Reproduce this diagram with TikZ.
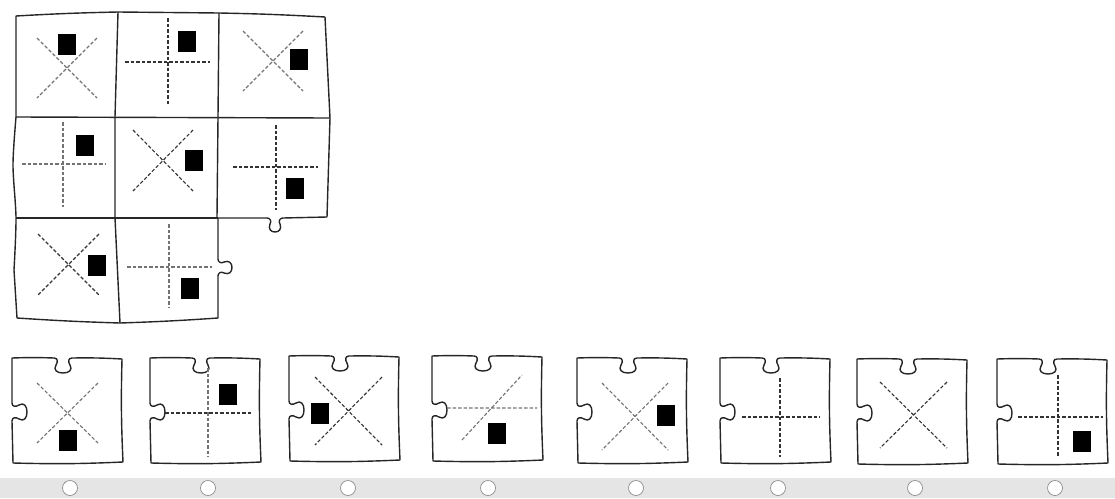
\documentclass[tikz,border=0pt]{standalone}
\usepackage{tikz}
\usetikzlibrary{positioning}

% one answer piece: notch on top and on the left
\newcommand{\puzzlepiece}[1]{%
  \draw[outline, shift={#1}] (0,0) to[bend left=2] (42,0)
    .. controls (46,0) and (46,4) .. (44,7)
    .. controls (41,12) and (45,15) .. (51,15)
    .. controls (57,15) and (61,12) .. (58,7)
    .. controls (56,4) and (56,0) .. (60,0)
    to[bend left=2] (110,1) to[bend right=2] (111,104) to[bend left=2] (1,105) -- (0,63)
    .. controls (0,59) and (4,59) .. (7,61)
    .. controls (12,64) and (15,60) .. (15,54)
    .. controls (15,48) and (12,44) .. (7,47)
    .. controls (4,49) and (0,49) .. (0,45) -- cycle;}

\begin{document}
\begin{tikzpicture}[
    x=1pt, y=-1pt,
    outline/.style={draw=black!85, line width=1.4pt, line join=round},
    dashdark/.style={draw=black!80, line width=1.1pt, dash pattern=on 3.5pt off 2pt},
    dashlight/.style={draw=black!55, line width=1.1pt, dash pattern=on 3.5pt off 2pt},
    blk/.style={rectangle, fill=black, minimum width=18pt, minimum height=21pt, inner sep=0pt},
    radio/.style={circle, draw=black!45, fill=white, line width=0.7pt, minimum size=15pt, inner sep=0pt}
]
    \useasboundingbox (0,0) rectangle (1115,498);

    % Grid outline
    \draw[outline] (16,16) to[bend left=1] (118,12) -- (219,13) to[bend left=1] (325,17)
        -- (330,118) -- (327,217) -- (283,218)
        .. controls (280,218) and (278,221) .. (280,224)
        .. controls (282,229) and (279,232) .. (275,232)
        .. controls (271,232) and (268,229) .. (270,224)
        .. controls (272,221) and (270,218) .. (267,218)
        -- (218,218) -- (218,259)
        .. controls (218,262) and (221,264) .. (224,262)
        .. controls (229,260) and (232,263) .. (232,267.5)
        .. controls (232,272) and (229,275) .. (224,273)
        .. controls (221,271) and (218,273) .. (218,276)
        -- (218,318) to[bend left=1] (120,323) to[bend left=1] (17,318)
        -- plot[smooth] coordinates {(14,270) (16,218) (13,165) (16,117)} -- cycle;
    \draw[outline] (16,117) -- (330,118);
    \draw[outline] (16,218) -- (218,218);
    \draw[outline] (118,12) -- (115,117) -- (115,218) -- (120,323);
    \draw[outline] (219,13) -- (218,117) -- (217,218);

    % Row 1
    \draw[dashlight] (37,38) -- (97,98) (97,38) -- (37,98);
    \node[blk] (s11) at (67,44) {};
    \draw[dashdark] (125,62) -- (210,62) (168,18) -- (168,105);
    \node[blk] (s12) at (187,41) {};
    \draw[dashlight] (243,31) -- (303,91) (303,31) -- (243,91);
    \node[blk] (s13) at (299,59) {};

    % Row 2
    \draw[dashlight] (22,164) -- (106,164) (63,122) -- (63,207);
    \node[blk] (s21) at (85,145) {};
    \draw[dashdark] (133,130) -- (193,191) (193,130) -- (133,191);
    \node[blk] (s22) at (194,160) {};
    \draw[dashdark] (233,167) -- (318,167) (276,125) -- (276,210);
    \node[blk] (s23) at (295,188) {};

    % Row 3
    \draw[dashdark] (38,234) -- (99,295) (99,234) -- (38,295);
    \node[blk] (s31) at (97,265) {};
    \draw[dashlight] (127,267) -- (212,267) (169,224) -- (169,308);
    \node[blk] (s32) at (190,288) {};

    % Answer pieces
    \puzzlepiece{(12,358)}
    \draw[dashlight] (37,383) -- (98,443) (98,383) -- (37,443);
    \node[blk] (a1) at (68,440) {};

    \puzzlepiece{(150,358)}
    \draw[dashlight] (208,368) -- (208,457);
    \draw[dashdark] (165,413) -- (251,413);
    \node[blk] (a2) at (228,394) {};

    \puzzlepiece{(289,356)}
    \draw[dashdark] (315,377) -- (382,445) (382,377) -- (315,445);
    \node[blk] (a3) at (320,413) {};

    \puzzlepiece{(432,356)}
    \draw[dashlight] (447,408) -- (537,408) (462,440) -- (522,375);
    \node[blk] (a4) at (497,433) {};

    \puzzlepiece{(577,358)}
    \draw[dashlight] (602,383) -- (668,450) (668,383) -- (602,450);
    \node[blk] (a5) at (666,415) {};

    \puzzlepiece{(720,358)}
    \draw[dashdark] (780,378) -- (780,457) (742,417) -- (820,417);

    \puzzlepiece{(857,359)}
    \draw[dashdark] (880,382) -- (947,448) (947,382) -- (880,448);

    \puzzlepiece{(997,359)}
    \draw[dashdark] (1058,375) -- (1058,457) (1018,417) -- (1103,417);
    \node[blk] (a8) at (1082,441) {};

    % Radio bar
    \fill[black!10] (0,478) rectangle (1115,498);
    \foreach \rx [count=\i] in {70,208,348,488,636,778,915,1055}
        \node[radio] (r\i) at (\rx,488) {};

\end{tikzpicture}
\end{document}
